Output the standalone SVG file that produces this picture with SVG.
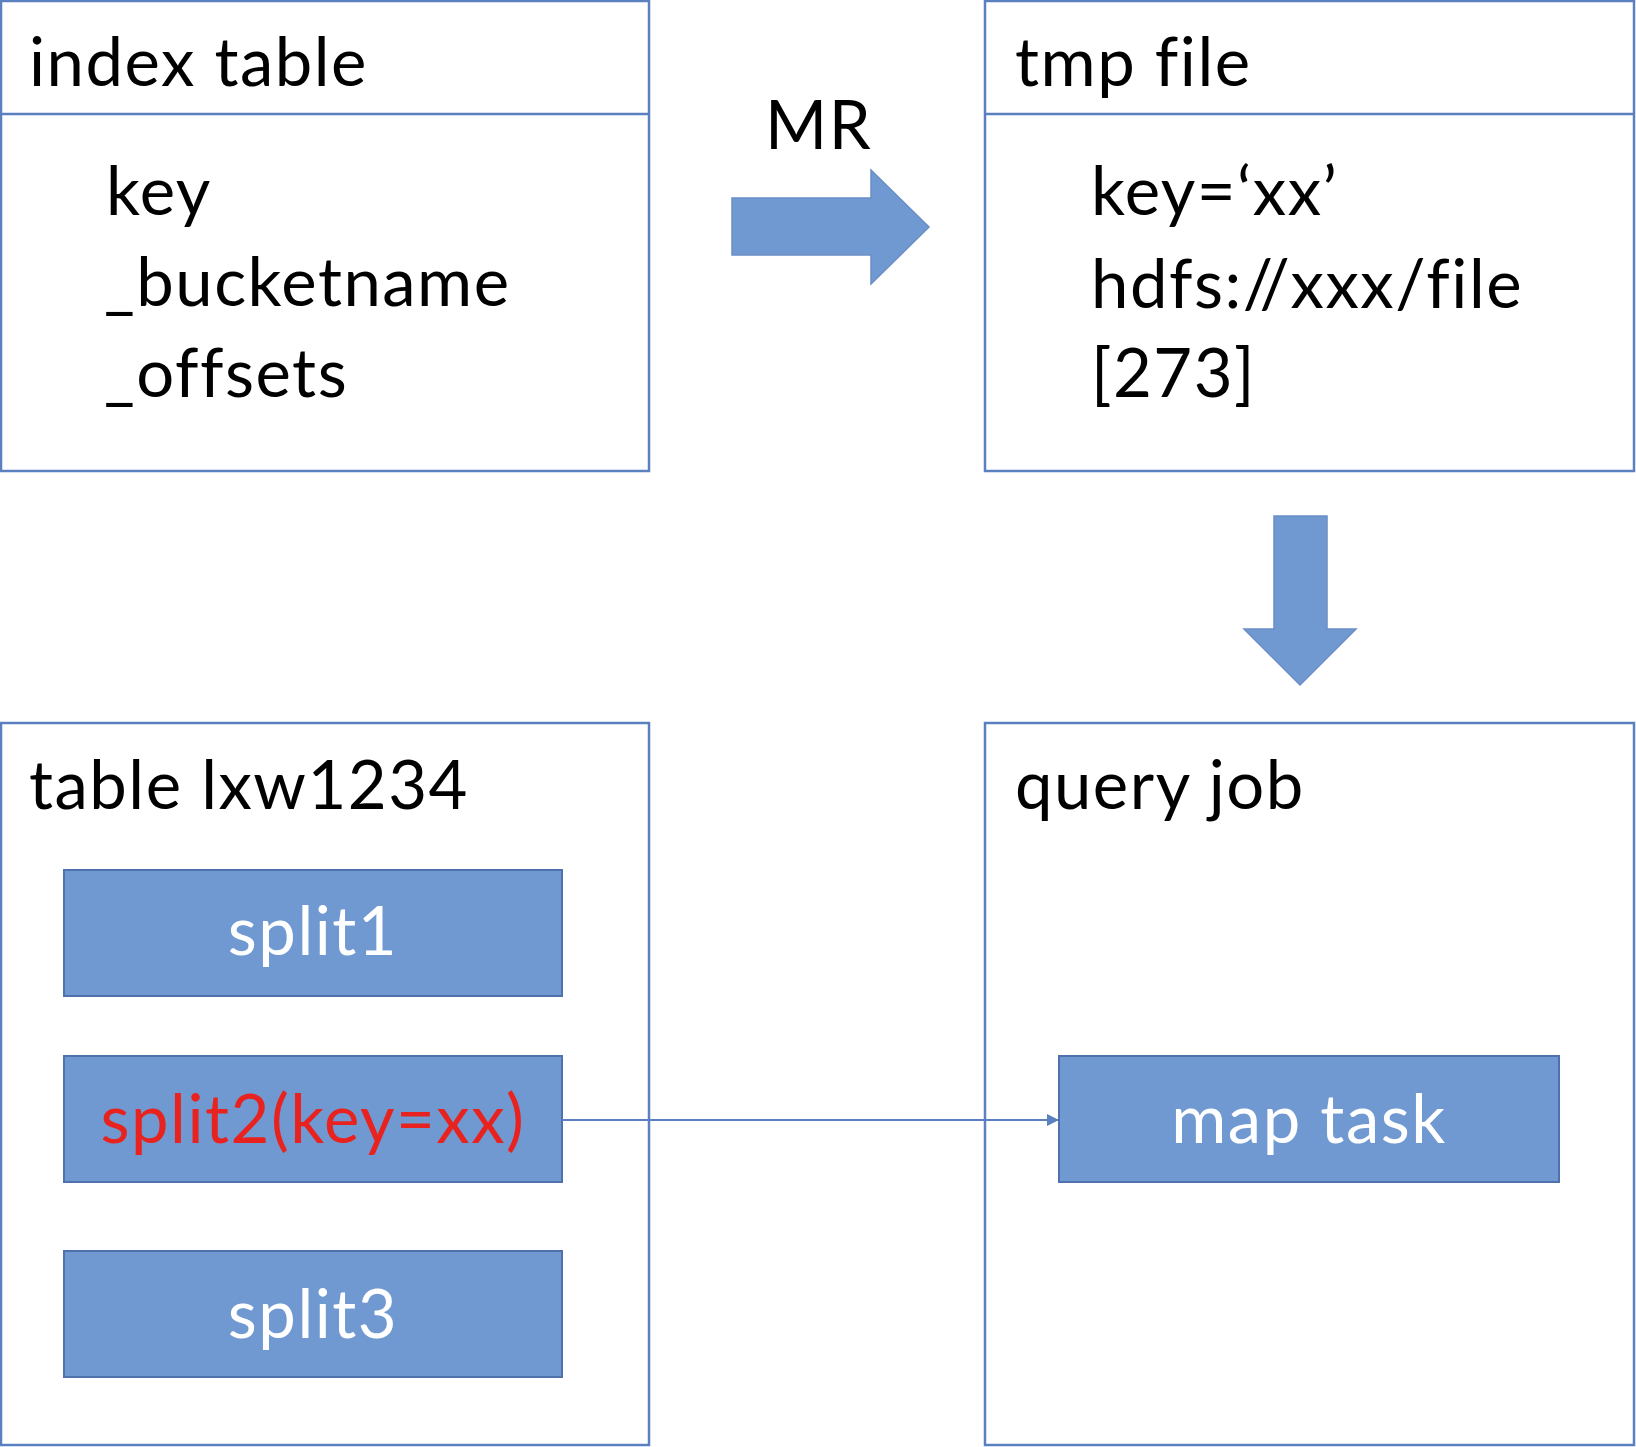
<svg xmlns="http://www.w3.org/2000/svg" width="1636" height="1447" viewBox="0 0 1636 1447">
  <style>
    .frame { fill: #ffffff; stroke: #5b80bf; stroke-width: 2.5; }
    .rule { stroke: #5b80bf; stroke-width: 2.5; fill: none; }
    .block { fill: #7099d2; stroke: #4f72ad; stroke-width: 2; }
    .bigarrow { fill: #7099d2; stroke: #6a8fc6; stroke-width: 1.5; }
    .t { font-family: Lato, "Open Sans", "Liberation Sans", sans-serif; font-size: 67px; letter-spacing: 1.5px; font-variant-ligatures: none; fill: #000000; }
    .w { fill: #ffffff; text-anchor: middle; }
    .red { fill: #e8231f; text-anchor: middle; }
    .link { stroke: #5b80bf; stroke-width: 2; fill: none; }
  </style>
  <defs>
    <marker id="tip" markerWidth="12" markerHeight="12" refX="11" refY="6" orient="auto" markerUnits="userSpaceOnUse">
      <path d="M0,0 L12,6 L0,12 Z" fill="#5b80bf"/>
    </marker>
  </defs>

  <rect width="1636" height="1447" fill="#ffffff"/>

  <!-- index table -->
  <g id="index-table">
    <rect class="frame" x="1" y="1" width="648" height="470"/>
    <line class="rule" x1="1" y1="114" x2="649" y2="114"/>
    <text class="t" x="29" y="86">index table</text>
    <text class="t" x="106" y="215">key</text>
    <text class="t" x="104" y="306">_bucketname</text>
    <text class="t" x="104" y="397">_offsets</text>
  </g>

  <!-- tmp file -->
  <g id="tmp-file">
    <rect class="frame" x="985" y="1" width="649" height="470"/>
    <line class="rule" x1="985" y1="114" x2="1634" y2="114"/>
    <text class="t" x="1015" y="86">tmp file</text>
    <text class="t" x="1091" y="215">key=‘xx’</text>
    <text class="t" x="1091" y="308">hdfs://xxx/file</text>
    <text class="t" x="1091" y="397">[273]</text>
  </g>

  <!-- MR block arrow -->
  <g id="mr-arrow">
    <polygon class="bigarrow" points="732,198 871,198 871,170 929,227 871,284 871,255 732,255"/>
    <text class="t" x="765" y="149">MR</text>
  </g>

  <!-- downward block arrow -->
  <g id="down-arrow">
    <polygon class="bigarrow" points="1274,516 1327,516 1327,629 1356,629 1300,685 1244,629 1274,629"/>
  </g>

  <!-- table lxw1234 -->
  <g id="table-lxw1234">
    <rect class="frame" x="1" y="723" width="648" height="722"/>
    <text class="t" x="29" y="809">table lxw1234</text>
  </g>

  <g id="split1">
    <rect class="block" x="64" y="870" width="498" height="126"/>
    <text class="t w" x="313" y="955">split1</text>
  </g>
  <g id="split2">
    <rect class="block" x="64" y="1056" width="498" height="126"/>
    <text class="t red" x="313" y="1143">split2(key=xx)</text>
  </g>
  <g id="split3">
    <rect class="block" x="64" y="1251" width="498" height="126"/>
    <text class="t w" x="313" y="1338">split3</text>
  </g>

  <!-- query job -->
  <g id="query-job">
    <rect class="frame" x="985" y="723" width="649" height="722"/>
    <text class="t" x="1015" y="809">query job</text>
  </g>
  <g id="map-task">
    <rect class="block" x="1059" y="1056" width="500" height="126"/>
    <text class="t w" x="1309" y="1143">map task</text>
  </g>

  <!-- connectors -->
  <g id="connectors">
    <line class="link" x1="562" y1="1120" x2="1058" y2="1120" marker-end="url(#tip)"/>
  </g>
</svg>
